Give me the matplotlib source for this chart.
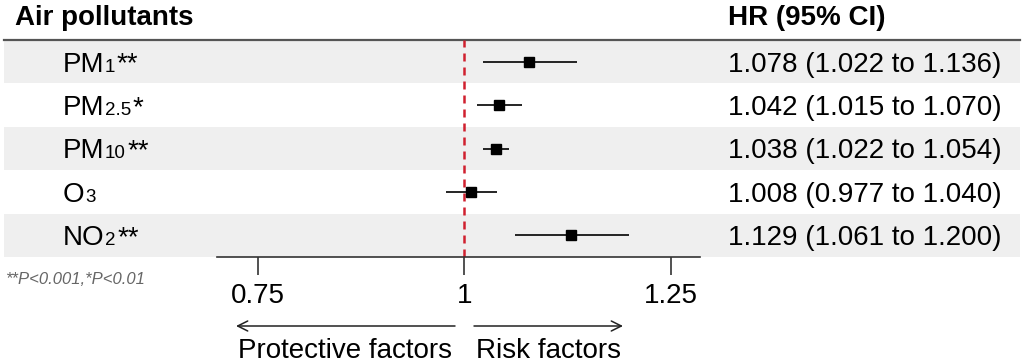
import matplotlib
matplotlib.use("Agg")
import matplotlib.pyplot as plt

plt.rcParams['font.family'] = ['Liberation Sans', 'DejaVu Sans']

# ---- data ----
label_base = ["PM", "PM", "PM", "O", "NO"]
label_sub = ["1", "2.5", "10", "3", "2"]
label_stars = ["**", "*", "**", "", "**"]
hr = [1.078, 1.042, 1.038, 1.008, 1.129]
ci_low = [1.022, 1.015, 1.022, 0.977, 1.061]
ci_high = [1.136, 1.070, 1.054, 1.040, 1.200]
xticks = [0.75, 1, 1.25]
xtick_labels = ["0.75", "1", "1.25"]
footnote = "**P<0.001,*P<0.01"

W, H = 1024, 362
fig = plt.figure(figsize=(W / 100, H / 100), dpi=100)

# background axes in pixel coordinates
bg = fig.add_axes([0, 0, 1, 1])
bg.set_xlim(0, W)
bg.set_ylim(H, 0)
bg.axis('off')

top, bottom = 40, 257
n = len(hr)
rh = (bottom - top) / n
for i in range(n):
    if i % 2 == 0:
        bg.axhspan(top + i * rh, top + (i + 1) * rh, xmin=4 / W, xmax=1020 / W,
                   color='#efefef', lw=0, zorder=0)
bg.plot([4, 1020], [top, top], color='#555555', lw=1.6, zorder=1)

FS = 20
bg.text(15, 25, "Air pollutants", fontsize=FS, fontweight='bold', va='baseline', ha='left')
bg.text(728, 25, "HR (95% CI)", fontsize=FS, fontweight='bold', va='baseline', ha='left')

renderer = fig.canvas.get_renderer()
for i in range(n):
    yb = top + (i + 0.5) * rh + 10
    t = bg.text(63, yb, label_base[i], fontsize=FS, va='baseline', ha='left')
    bb = t.get_window_extent(renderer)
    ts = bg.text(bb.x1 + 0.5, yb, label_sub[i], fontsize=13.5, va='baseline', ha='left')
    bb2 = ts.get_window_extent(renderer)
    if label_stars[i]:
        bg.text(bb2.x1 + 1.5, yb, label_stars[i], fontsize=FS, va='baseline', ha='left')
    bg.text(728, yb, f"{hr[i]:.3f} ({ci_low[i]:.3f} to {ci_high[i]:.3f})",
            fontsize=FS, va='baseline', ha='left')

bg.text(5, 280, footnote, fontsize=12, style='italic', color='#666666',
        va='center', ha='left')

# arrows + direction labels
bg.annotate("", xy=(236, 326), xytext=(455, 326),
            arrowprops=dict(arrowstyle='->', color='#222222', lw=1.1,
                            mutation_scale=18, shrinkA=0, shrinkB=0))
bg.annotate("", xy=(623, 326), xytext=(474, 326),
            arrowprops=dict(arrowstyle='->', color='#222222', lw=1.1,
                            mutation_scale=18, shrinkA=0, shrinkB=0))
bg.text(238, 358, "Protective factors", fontsize=FS, va='baseline', ha='left')
bg.text(476, 358, "Risk factors", fontsize=FS, va='baseline', ha='left')

# forest axes
left_px, right_px = 217, 700
ax = fig.add_axes([left_px / W, 1 - bottom / H, (right_px - left_px) / W, (bottom - top) / H])
ax.patch.set_alpha(0)
ax.set_xlim(0.7, 1.2855)
ax.set_ylim(n - 0.5, -0.5)
for s in ['top', 'right', 'left']:
    ax.spines[s].set_visible(False)
ax.spines['bottom'].set_color('#333333')
ax.spines['bottom'].set_linewidth(1.2)
ax.set_yticks([])
ax.set_xticks(xticks)
ax.set_xticklabels(xtick_labels, fontsize=FS)
ax.tick_params(axis='x', length=13, width=1.2, color='#333333', pad=6)

ax.axvline(1, color='#d0202f', lw=1.8, dashes=(3.2, 2.4), zorder=1)
ys = list(range(n))
ax.hlines(ys, ci_low, ci_high, color='black', lw=1.2, zorder=2)
ax.plot(hr, ys, 's', color='black', markersize=7.5, zorder=3)

fig.savefig("out.png", dpi=100)
